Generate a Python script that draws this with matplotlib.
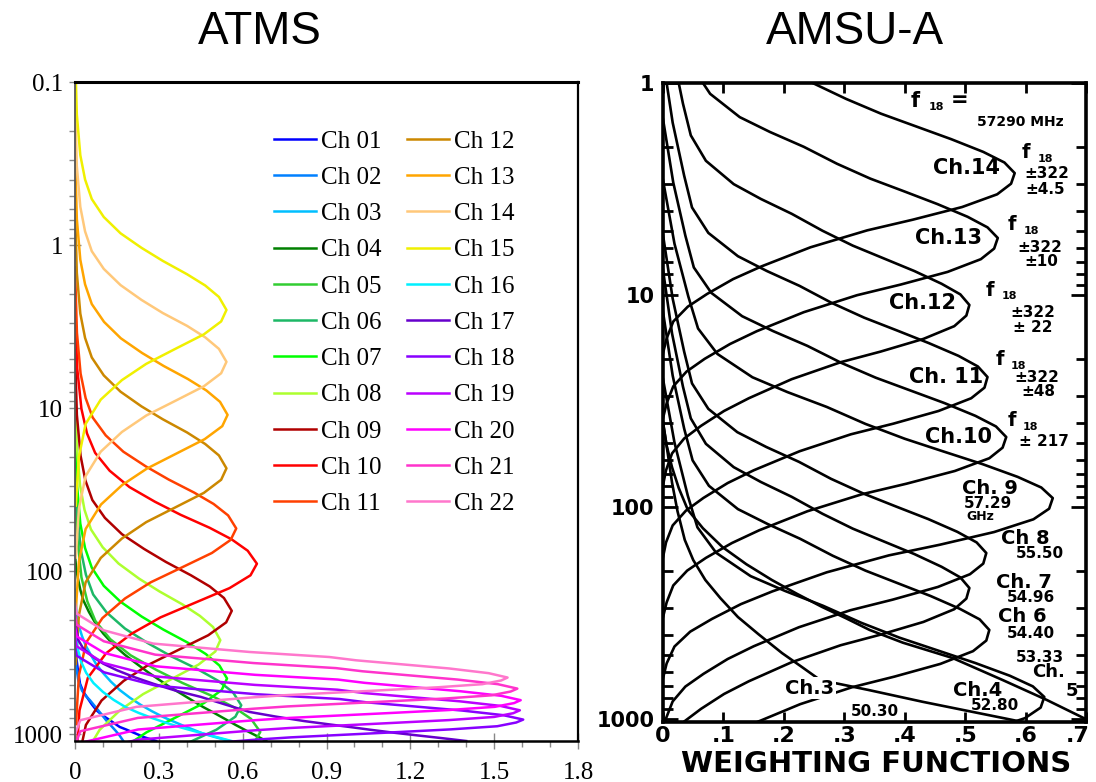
import numpy as np
import matplotlib
matplotlib.use('Agg')
import matplotlib.pyplot as plt
from matplotlib.ticker import FixedLocator, LogLocator, MultipleLocator, NullFormatter
from matplotlib.transforms import ScaledTranslation

# Data section: weighting function (w) against pressure in hPa (p)

# ATMS
atms_labels = ['Ch %02d' % i for i in range(1, 23)]
atms_colors = ['#0000FF', '#0080FF', '#00BFFF', '#008000', '#32CD32', '#1DB866',
               '#00FF00', '#ADFF2F', '#B00000', '#FF0000', '#FF4000', '#CC8800',
               '#FFA500', '#FFC87A', '#F0F000', '#00F0FF', '#6600CC', '#8800FF',
               '#BB00FF', '#FF00FF', '#FF33CC', '#FF77CC']

w_ch01 = [0.0, 0.003, 0.01, 0.018, 0.03, 0.045, 0.06, 0.077, 0.098, 0.12, 0.14, 0.16,
          0.183, 0.205, 0.225, 0.244, 0.268, 0.29]
p_ch01 = [250, 320, 400, 490, 550, 600, 655, 713, 765, 810, 855, 902,
          935, 970, 1003, 1038, 1070, 1100]
w_ch02 = [0.0, 0.004, 0.012, 0.025, 0.04, 0.054, 0.07, 0.085, 0.10, 0.113, 0.13, 0.145, 0.16, 0.173]
p_ch02 = [280, 380, 470, 540, 585, 620, 670, 720, 775, 827, 890, 950, 1020, 1100]
w_ch03 = [0.0, 0.006, 0.015, 0.025, 0.038, 0.054, 0.075, 0.10, 0.128, 0.161, 0.197, 0.235,
          0.275, 0.315, 0.352, 0.39, 0.425, 0.458, 0.505, 0.553]
p_ch03 = [130, 190, 220, 250, 285, 320, 370, 420, 475, 537, 598, 660,
          722, 783, 835, 890, 940, 991, 1045, 1100]
w_ch04 = [0.0, 0.004, 0.01, 0.019, 0.03, 0.05, 0.073, 0.101, 0.14, 0.18, 0.22, 0.26,
          0.3, 0.339, 0.379, 0.418, 0.458, 0.498, 0.538, 0.577, 0.613, 0.648, 0.684]
p_ch04 = [80, 95, 110, 130, 151, 178, 208, 241, 285, 327, 369, 415,
          462, 513, 563, 618, 680, 740, 808, 881, 950, 1020, 1100]
w_ch05 = [0, 0.008, 0.023, 0.044, 0.073, 0.126, 0.199, 0.292, 0.385, 0.491, 0.570, 0.630,
          0.663, 0.640, 0.564]
p_ch05 = [24.3, 61.1, 109, 153, 202, 261, 328, 404, 485, 583, 685, 805,
          968, 1137, 1367]
w_ch06 = [0, 0.0071, 0.021, 0.039, 0.065, 0.113, 0.179, 0.262, 0.345, 0.440, 0.512, 0.565,
          0.595, 0.574, 0.506, 0.393, 0.280]
p_ch06 = [16.7, 41.9, 74.5, 105, 139, 179, 225, 277, 333, 400, 470, 552,
          664, 780, 938, 1154, 1420]
w_ch07 = [0, 0.0065, 0.019, 0.036, 0.060, 0.103, 0.163, 0.239, 0.316, 0.403, 0.468, 0.517,
          0.544, 0.525, 0.462, 0.359, 0.256, 0.169, 0.092]
p_ch07 = [11.4, 28.7, 51.1, 72.1, 95.1, 123, 154, 190, 228, 274, 322, 379,
          455, 535, 643, 791, 973, 1225, 1614]
w_ch08 = [0, 0.0062, 0.018, 0.034, 0.057, 0.099, 0.156, 0.229, 0.302, 0.385, 0.447, 0.494,
          0.520, 0.502, 0.442, 0.343, 0.244, 0.161, 0.088, 0.036]
p_ch08 = [6.66, 16.7, 29.7, 42.0, 55.4, 71.3, 89.8, 111, 133, 160, 188, 220,
          265, 311, 374, 461, 567, 713, 940, 1328]
w_ch09 = [0, 0.0067, 0.020, 0.037, 0.062, 0.107, 0.168, 0.247, 0.325, 0.415, 0.482, 0.533,
          0.561, 0.541, 0.477, 0.370, 0.264, 0.174, 0.095, 0.039, 0.014]
p_ch09 = [4.40, 11.0, 19.6, 27.7, 36.6, 47.1, 59.3, 73.0, 87.7, 106, 124, 146,
          175, 206, 247, 304, 374, 471, 621, 877, 1390]
w_ch10 = [0, 0.0078, 0.023, 0.043, 0.072, 0.124, 0.195, 0.286, 0.378, 0.482, 0.560, 0.618,
          0.651, 0.628, 0.553, 0.430, 0.306, 0.202, 0.111, 0.046, 0.016, 0.004]
p_ch10 = [2.26, 5.68, 10.1, 14.3, 18.8, 24.2, 30.5, 37.5, 45.1, 54.2, 63.7, 74.9,
          90, 106, 127, 156, 192, 242, 319, 451, 715, 1426]
w_ch11 = [0, 0.0069, 0.020, 0.038, 0.063, 0.110, 0.173, 0.254, 0.335, 0.427, 0.496, 0.548,
          0.577, 0.557, 0.490, 0.381, 0.271, 0.179, 0.098, 0.040, 0.014, 0.0035]
p_ch11 = [1.37, 3.45, 6.14, 8.67, 11.4, 14.7, 18.5, 22.8, 27.4, 33.0, 38.7, 45.5,
          54.7, 64.3, 77.3, 95.1, 117, 147, 194, 274, 435, 867]
w_ch12 = [0, 0.0065, 0.019, 0.036, 0.060, 0.103, 0.163, 0.238, 0.314, 0.401, 0.466, 0.515,
          0.542, 0.523, 0.461, 0.358, 0.255, 0.168, 0.092, 0.038, 0.014, 0.003]
p_ch12 = [0.588, 1.48, 2.63, 3.71, 4.89, 6.30, 7.93, 9.76, 11.7, 14.1, 16.6, 19.5,
          23.4, 27.5, 33.1, 40.7, 50.0, 63.0, 83.0, 117, 186, 371]
w_ch13 = [0, 0.0066, 0.019, 0.036, 0.060, 0.104, 0.164, 0.240, 0.317, 0.404, 0.470, 0.519,
          0.546, 0.527, 0.464, 0.360, 0.257, 0.169, 0.093, 0.038, 0.014, 0.003]
p_ch13 = [0.276, 0.694, 1.23, 1.74, 2.30, 2.96, 3.73, 4.59, 5.51, 6.63, 7.79, 9.15,
          11.0, 12.9, 15.5, 19.1, 23.5, 29.6, 39.0, 55.1, 87.4, 174]
w_ch14 = [0, 0.0065, 0.019, 0.036, 0.060, 0.103, 0.163, 0.238, 0.314, 0.401, 0.466, 0.515,
          0.542, 0.523, 0.461, 0.358, 0.255, 0.168, 0.092, 0.038, 0.014, 0.003]
p_ch14 = [0.131, 0.328, 0.583, 0.824, 1.09, 1.40, 1.76, 2.17, 2.61, 3.13, 3.68, 4.33,
          5.2, 6.11, 7.35, 9.04, 11.1, 14.0, 18.5, 26.1, 41.3, 82.4]
w_ch15 = [0, 0.0065, 0.019, 0.036, 0.060, 0.103, 0.163, 0.238, 0.314, 0.401, 0.466, 0.515,
          0.542, 0.523, 0.461, 0.358, 0.255, 0.168, 0.092, 0.038, 0.014, 0.003]
p_ch15 = [0.0628, 0.158, 0.281, 0.396, 0.522, 0.673, 0.847, 1.04, 1.25, 1.51, 1.77, 2.08,
          2.5, 2.94, 3.53, 4.34, 5.35, 6.73, 8.87, 12.5, 19.9, 39.6]
w_ch16 = [0.0, 0.004, 0.01, 0.022, 0.04, 0.066, 0.1, 0.138, 0.18, 0.228, 0.28, 0.33,
          0.38, 0.425, 0.47, 0.515, 0.56]
p_ch16 = [200, 250, 300, 360, 420, 485, 550, 615, 680, 740, 800, 855,
          910, 955, 1000, 1050, 1100]
w_ch17 = [0.0, 0.004, 0.012, 0.028, 0.05, 0.075, 0.101, 0.15, 0.21, 0.28, 0.36, 0.45,
          0.535, 0.625, 0.72, 0.82, 0.91, 0.982, 1.06, 1.14, 1.22, 1.31, 1.40]
p_ch17 = [180, 220, 265, 295, 320, 345, 369, 405, 445, 490, 540, 590,
          655, 730, 780, 830, 870, 902, 940, 978, 1014, 1055, 1100]
w_ch18 = [0, 0.006, 0.104, 0.290, 0.648, 0.946, 1.043, 1.387, 1.533, 1.604, 1.579, 1.511,
          1.347, 1.140, 0.772, 0.648, 0.228]
p_ch18 = [287, 330, 417, 504, 568, 608, 637, 716, 764, 813, 847, 893,
          933, 973, 1045, 1079, 1230]
w_ch19 = [0, 0.006, 0.103, 0.288, 0.643, 0.939, 1.035, 1.377, 1.522, 1.592, 1.568, 1.500,
          1.337, 1.132, 0.766, 0.643, 0.226, 0.019]
p_ch19 = [252, 289, 366, 442, 498, 533, 559, 628, 670, 713, 743, 783,
          819, 853, 916, 946, 1079, 1303]
w_ch20 = [0, 0.006, 0.104, 0.289, 0.644, 0.941, 1.037, 1.380, 1.525, 1.595, 1.571, 1.502,
          1.340, 1.134, 0.767, 0.644, 0.226, 0.019, 0]
p_ch20 = [218, 251, 317, 383, 432, 462, 484, 545, 581, 618, 644, 679,
          710, 740, 794, 820, 935, 1130, 1377]
w_ch21 = [0, 0.006, 0.103, 0.287, 0.640, 0.934, 1.029, 1.369, 1.513, 1.583, 1.559, 1.491,
          1.330, 1.126, 0.761, 0.640, 0.225, 0.019, 0]
p_ch21 = [185, 213, 269, 325, 366, 393, 411, 462, 493, 525, 547, 577,
          603, 628, 675, 697, 794, 959, 1169]
w_ch22 = [0, 0.006, 0.101, 0.280, 0.625, 0.910, 1.006, 1.339, 1.480, 1.548, 1.525, 1.458,
          1.300, 1.101, 0.745, 0.625, 0.220, 0.019, 0]
p_ch22 = [158, 182, 230, 278, 313, 336, 352, 395, 422, 449, 468, 493,
          515, 537, 577, 596, 679, 820, 1000]

atms_curves = [(w_ch01, p_ch01), (w_ch02, p_ch02), (w_ch03, p_ch03), (w_ch04, p_ch04),
               (w_ch05, p_ch05), (w_ch06, p_ch06), (w_ch07, p_ch07), (w_ch08, p_ch08),
               (w_ch09, p_ch09), (w_ch10, p_ch10), (w_ch11, p_ch11), (w_ch12, p_ch12),
               (w_ch13, p_ch13), (w_ch14, p_ch14), (w_ch15, p_ch15), (w_ch16, p_ch16),
               (w_ch17, p_ch17), (w_ch18, p_ch18), (w_ch19, p_ch19), (w_ch20, p_ch20),
               (w_ch21, p_ch21), (w_ch22, p_ch22)]

atms_xticks = [0, 0.3, 0.6, 0.9, 1.2, 1.5, 1.8]
atms_xlabels = ['0', '0.3', '0.6', '0.9', '1.2', '1.5', '1.8']
atms_yticks = [0.1, 1, 10, 100, 1000]
atms_ylabels = ['0.1', '1', '10', '100', '1000']

# AMSU-A: weighting function (w) against log10 of pressure in hPa (lp)
a_w03 = [0.0, 0.008, 0.015, 0.024, 0.036, 0.05, 0.07, 0.095, 0.124, 0.158, 0.197, 0.23,
         0.26, 0.34, 0.43, 0.562, 0.60]
a_lp03 = [1.6, 1.75, 1.886, 2.02, 2.155, 2.25, 2.344, 2.43, 2.519, 2.60, 2.689, 2.755,
          2.816, 2.863, 2.919, 2.995, 3.017]
a_w04 = [0.0, 0.006, 0.015, 0.026, 0.041, 0.066, 0.098, 0.138, 0.18, 0.222, 0.263, 0.303,
         0.342, 0.397, 0.479, 0.562, 0.635, 0.703]
a_lp04 = [1.602, 1.71, 1.813, 1.91, 2.013, 2.10, 2.188, 2.27, 2.344, 2.41, 2.471, 2.525,
          2.580, 2.64, 2.712, 2.816, 2.910, 3.005]
a_w05 = [0, 0.019, 0.041, 0.057, 0.088, 0.145, 0.202, 0.265, 0.328, 0.391, 0.454, 0.517,
         0.574, 0.612, 0.631, 0.625, 0.599, 0.536]
a_lp05 = [1.396, 1.696, 1.946, 2.096, 2.216, 2.326, 2.396, 2.466, 2.546, 2.616, 2.676, 2.736,
          2.796, 2.846, 2.896, 2.946, 2.996, 3.056]
a_w06 = [0, 0.016, 0.035, 0.049, 0.076, 0.124, 0.173, 0.227, 0.281, 0.335, 0.389, 0.443,
         0.491, 0.524, 0.540, 0.535, 0.513, 0.459, 0.383, 0.313, 0.227, 0.151, 0.108]
a_lp06 = [1.080, 1.380, 1.630, 1.780, 1.900, 2.010, 2.080, 2.150, 2.230, 2.300, 2.360, 2.420,
          2.480, 2.530, 2.580, 2.630, 2.680, 2.740, 2.800, 2.850, 2.930, 3.020, 3.080]
a_w07 = [0, 0.015, 0.033, 0.046, 0.071, 0.117, 0.162, 0.213, 0.264, 0.314, 0.365, 0.416,
         0.461, 0.492, 0.507, 0.502, 0.482, 0.431, 0.360, 0.294, 0.213, 0.142, 0.101, 0.063,
         0.035, 0.015]
a_lp07 = [0.882, 1.182, 1.432, 1.582, 1.702, 1.812, 1.882, 1.952, 2.032, 2.102, 2.162, 2.222,
          2.282, 2.332, 2.382, 2.432, 2.482, 2.542, 2.602, 2.652, 2.732, 2.822, 2.882, 2.952,
          3.012, 3.082]
a_w08 = [0, 0.016, 0.035, 0.048, 0.075, 0.123, 0.171, 0.225, 0.278, 0.332, 0.385, 0.439,
         0.487, 0.519, 0.535, 0.530, 0.508, 0.455, 0.380, 0.310, 0.225, 0.150, 0.107, 0.067,
         0.037, 0.016, 0.005, 0]
a_lp08 = [0.717, 1.017, 1.267, 1.417, 1.537, 1.647, 1.717, 1.787, 1.867, 1.937, 1.997, 2.057,
          2.117, 2.167, 2.217, 2.267, 2.317, 2.377, 2.437, 2.487, 2.567, 2.657, 2.717, 2.787,
          2.847, 2.917, 2.997, 3.067]
a_w09 = [0, 0.019, 0.042, 0.058, 0.090, 0.148, 0.206, 0.271, 0.335, 0.400, 0.464, 0.529,
         0.587, 0.626, 0.645, 0.639, 0.613, 0.548, 0.458, 0.374, 0.271, 0.181, 0.129, 0.081,
         0.045, 0.019, 0.006, 0]
a_lp09 = [0.458, 0.758, 1.008, 1.158, 1.278, 1.388, 1.458, 1.528, 1.608, 1.678, 1.738, 1.798,
          1.858, 1.908, 1.958, 2.008, 2.058, 2.118, 2.178, 2.228, 2.308, 2.398, 2.458, 2.528,
          2.588, 2.658, 2.738, 2.808]
a_w10 = [0, 0.017, 0.037, 0.051, 0.080, 0.131, 0.182, 0.239, 0.295, 0.352, 0.409, 0.466,
         0.517, 0.551, 0.568, 0.562, 0.540, 0.483, 0.403, 0.329, 0.239, 0.159, 0.114, 0.071,
         0.040, 0.017, 0.006, 0]
a_lp10 = [0.170, 0.470, 0.720, 0.870, 0.990, 1.100, 1.170, 1.240, 1.320, 1.390, 1.450, 1.510,
          1.570, 1.620, 1.670, 1.720, 1.770, 1.830, 1.890, 1.940, 2.020, 2.110, 2.170, 2.240,
          2.300, 2.370, 2.450, 2.520]
a_w11 = [0, 0.016, 0.035, 0.048, 0.075, 0.124, 0.172, 0.226, 0.279, 0.333, 0.387, 0.440,
         0.489, 0.521, 0.537, 0.532, 0.510, 0.456, 0.381, 0.311, 0.226, 0.150, 0.107, 0.067,
         0.038, 0.016, 0.005, 0]
a_lp11 = [-0.113, 0.187, 0.437, 0.587, 0.707, 0.817, 0.887, 0.957, 1.037, 1.107, 1.167, 1.227,
          1.287, 1.337, 1.387, 1.437, 1.487, 1.547, 1.607, 1.657, 1.737, 1.827, 1.887, 1.957,
          2.017, 2.087, 2.167, 2.237]
a_w12 = [0, 0.015, 0.033, 0.046, 0.071, 0.117, 0.162, 0.213, 0.264, 0.314, 0.365, 0.416,
         0.461, 0.492, 0.507, 0.502, 0.482, 0.431, 0.360, 0.294, 0.213, 0.142, 0.101, 0.063,
         0.035, 0.015, 0.005, 0]
a_lp12 = [-0.453, -0.153, 0.097, 0.247, 0.367, 0.477, 0.547, 0.617, 0.697, 0.767, 0.827, 0.887,
          0.947, 0.997, 1.047, 1.097, 1.147, 1.207, 1.267, 1.317, 1.397, 1.487, 1.547, 1.617,
          1.677, 1.747, 1.827, 1.897]
a_w13 = [0.050, 0.078, 0.127, 0.177, 0.233, 0.288, 0.343, 0.399, 0.454, 0.504, 0.537, 0.554,
         0.548, 0.526, 0.471, 0.393, 0.321, 0.233, 0.155, 0.111, 0.069, 0.039, 0.017, 0.006, 0]
a_lp13 = [-0.069, 0.051, 0.161, 0.231, 0.301, 0.381, 0.451, 0.511, 0.571, 0.631, 0.681, 0.731,
          0.781, 0.831, 0.891, 0.951, 1.001, 1.081, 1.171, 1.231, 1.301, 1.361, 1.431, 1.511,
          1.581]
a_w14 = [0.186, 0.244, 0.303, 0.361, 0.419, 0.477, 0.530, 0.565, 0.582, 0.576, 0.553, 0.495,
         0.413, 0.338, 0.244, 0.163, 0.116, 0.073, 0.041, 0.017, 0.006, 0]
a_lp14 = [-0.075, -0.005, 0.075, 0.145, 0.205, 0.265, 0.325, 0.375, 0.425, 0.475, 0.525, 0.585,
          0.645, 0.695, 0.775, 0.865, 0.925, 0.995, 1.055, 1.125, 1.205, 1.275]

amsu_curves = [(a_w03, a_lp03), (a_w04, a_lp04), (a_w05, a_lp05), (a_w06, a_lp06),
               (a_w07, a_lp07), (a_w08, a_lp08), (a_w09, a_lp09), (a_w10, a_lp10),
               (a_w11, a_lp11), (a_w12, a_lp12), (a_w13, a_lp13), (a_w14, a_lp14)]

amsu_xticks = [0, 0.1, 0.2, 0.3, 0.4, 0.5, 0.6, 0.7]
amsu_xlabels = ['0', '.1', '.2', '.3', '.4', '.5', '.6', '.7']
amsu_yticks = [1, 10, 100, 1000]
amsu_ylabels = ['1', '10', '100', '1000']

# (text, x px, y px, size) of the labels written on the AMSU-A plot
amsu_notes = [('f', 915, 101, 15), ('18', 936, 107, 8), ('=', 960, 100, 15),
              ('57290 MHz', 1020, 122, 10),
              ('Ch.14', 966, 168, 15), ('f', 1026, 153, 14), ('18', 1045, 159, 8),
              ('\u00b1322', 1047, 173, 11), ('\u00b14.5', 1045, 190, 11),
              ('Ch.13', 948, 238, 15), ('f', 1012, 225, 14), ('18', 1031, 231, 8),
              ('\u00b1322', 1040, 247, 11), ('\u00b110', 1041, 262, 11),
              ('Ch.12', 923, 303, 15), ('f', 990, 290, 14), ('18', 1009, 296, 8),
              ('\u00b1322', 1033, 313, 11), ('\u00b1 22', 1033, 328, 11),
              ('Ch. 11', 946, 377, 15), ('f', 1000, 360, 14), ('18', 1018, 366, 8),
              ('\u00b1322', 1037, 378, 11), ('\u00b148', 1038, 392, 11),
              ('Ch.10', 958, 437, 15), ('f', 1012, 421, 14), ('18', 1030, 427, 8),
              ('\u00b1 217', 1044, 441, 11),
              ('Ch. 9', 990, 488, 14), ('57.29', 988, 503, 11), ('GHz', 980, 517, 9),
              ('Ch 8', 1025, 538, 14), ('55.50', 1040, 554, 11),
              ('Ch. 7', 1024, 582, 14), ('54.96', 1031, 598, 11),
              ('Ch 6', 1022, 617, 14), ('54.40', 1031, 633, 11),
              ('53.33', 1040, 657, 11), ('Ch.', 1049, 672, 13), ('5', 1072, 691, 13),
              ('Ch.4', 978, 690, 14), ('52.80', 995, 705, 11),
              ('50.30', 875, 711, 11)]


def setup_atms(ax):
    ax.set_yscale('log')
    ax.set_ylim(1100, 0.1)
    ax.set_xlim(0, 1.8)
    ax.yaxis.set_major_locator(FixedLocator(atms_yticks))
    ax.yaxis.set_minor_locator(LogLocator(base=10, subs=np.arange(2, 10), numticks=30))
    ax.yaxis.set_minor_formatter(NullFormatter())
    ax.set_yticklabels(atms_ylabels, fontfamily='Liberation Serif', fontsize=18)
    ax.set_xticks(atms_xticks)
    ax.set_xticklabels(atms_xlabels, fontfamily='Liberation Serif', fontsize=18)
    ax.xaxis.set_minor_locator(MultipleLocator(0.1))
    ax.tick_params(axis='y', which='major', direction='inout', length=9, width=1,
                   color='#888888', pad=4)
    ax.tick_params(axis='y', which='minor', direction='out', length=4, width=1,
                   color='#888888')
    ax.tick_params(axis='x', which='major', direction='inout', length=12, width=1,
                   color='#888888', pad=9)
    ax.tick_params(axis='x', which='minor', direction='out', length=4, width=1,
                   color='#888888')
    ax.spines['top'].set_linewidth(2.2)
    ax.spines['right'].set_linewidth(1.6)
    ax.spines['bottom'].set_linewidth(1.8)
    ax.spines['left'].set_linewidth(1.3)
    ax.spines['left'].set_color('#555555')
    return None


def setup_amsu(ax, fig):
    ax.set_yscale('log')
    ax.set_ylim(1033, 1)
    ax.set_xlim(0, 0.7)
    ax.yaxis.set_major_locator(FixedLocator(amsu_yticks))
    ax.yaxis.set_minor_locator(LogLocator(base=10, subs=np.arange(2, 10), numticks=30))
    ax.yaxis.set_minor_formatter(NullFormatter())
    ax.set_yticklabels(amsu_ylabels, fontfamily='DejaVu Sans', fontweight='bold', fontsize=15)
    ax.set_xticks(amsu_xticks)
    ax.set_xticklabels(amsu_xlabels, fontfamily='DejaVu Sans', fontweight='bold', fontsize=16)
    ax.tick_params(axis='both', which='both', direction='in', width=2, color='black',
                   top=True, right=True)
    ax.tick_params(axis='y', which='major', length=11, pad=6)
    ax.tick_params(axis='y', which='minor', length=7)
    ax.tick_params(axis='x', which='major', length=7, pad=3)
    last = ax.get_xticklabels()[-1]
    last.set_transform(last.get_transform() + ScaledTranslation(-6 / 72, 0, fig.dpi_scale_trans))
    for side in ['top', 'right', 'bottom', 'left']:
        ax.spines[side].set_linewidth(2.6)
    return None


def main():
    W, H = 1096, 782
    fig = plt.figure(figsize=(W / 100, H / 100), dpi=100)

    # ATMS panel
    ax1 = fig.add_axes([75 / W, 1 - 741 / H, 503 / W, 659 / H])
    for (w, p), c, lab in zip(atms_curves, atms_colors, atms_labels):
        ax1.plot(w, p, color=c, lw=1.8, label=lab, solid_joinstyle='round')
    setup_atms(ax1)
    ax1.legend(ncol=2, loc='upper left', bbox_to_anchor=(0.395, 0.927), frameon=False,
               prop={'family': 'Liberation Serif', 'size': 18}, handlelength=1.7,
               handletextpad=0.2, labelspacing=0.55, columnspacing=1.0,
               borderpad=0, borderaxespad=0)

    # AMSU-A panel
    ax2 = fig.add_axes([663 / W, 1 - 722 / H, 423 / W, 639 / H])
    for w, lp in amsu_curves:
        ax2.plot(w, np.power(10.0, lp), color='black', lw=1.9, solid_joinstyle='round')
    setup_amsu(ax2, fig)

    for s, x, y, size in amsu_notes:
        fig.text(x / W, 1 - y / H, s, fontsize=size, fontweight='bold',
                 fontfamily='DejaVu Sans', ha='center', va='center')
    # the Ch.3 label breaks its line in the original
    fig.text(810 / W, 1 - 688 / H, 'Ch.3', fontsize=14, fontweight='bold',
             fontfamily='DejaVu Sans', ha='center', va='center',
             bbox=dict(facecolor='white', edgecolor='none', pad=1))

    fig.text(876 / W, 1 - 764 / H, 'WEIGHTING FUNCTIONS', fontsize=21,
             fontweight='bold', fontfamily='DejaVu Sans', ha='center', va='center')

    fig.text(260 / W, 1 - 32 / H, 'ATMS', fontsize=33, fontfamily='Liberation Sans',
             ha='center', va='center')
    fig.text(855 / W, 1 - 32 / H, 'AMSU-A', fontsize=33, fontfamily='Liberation Sans',
             ha='center', va='center')

    fig.savefig('out.png', dpi=100)
    plt.close(fig)
    return None


if __name__ == "__main__":
    main()
